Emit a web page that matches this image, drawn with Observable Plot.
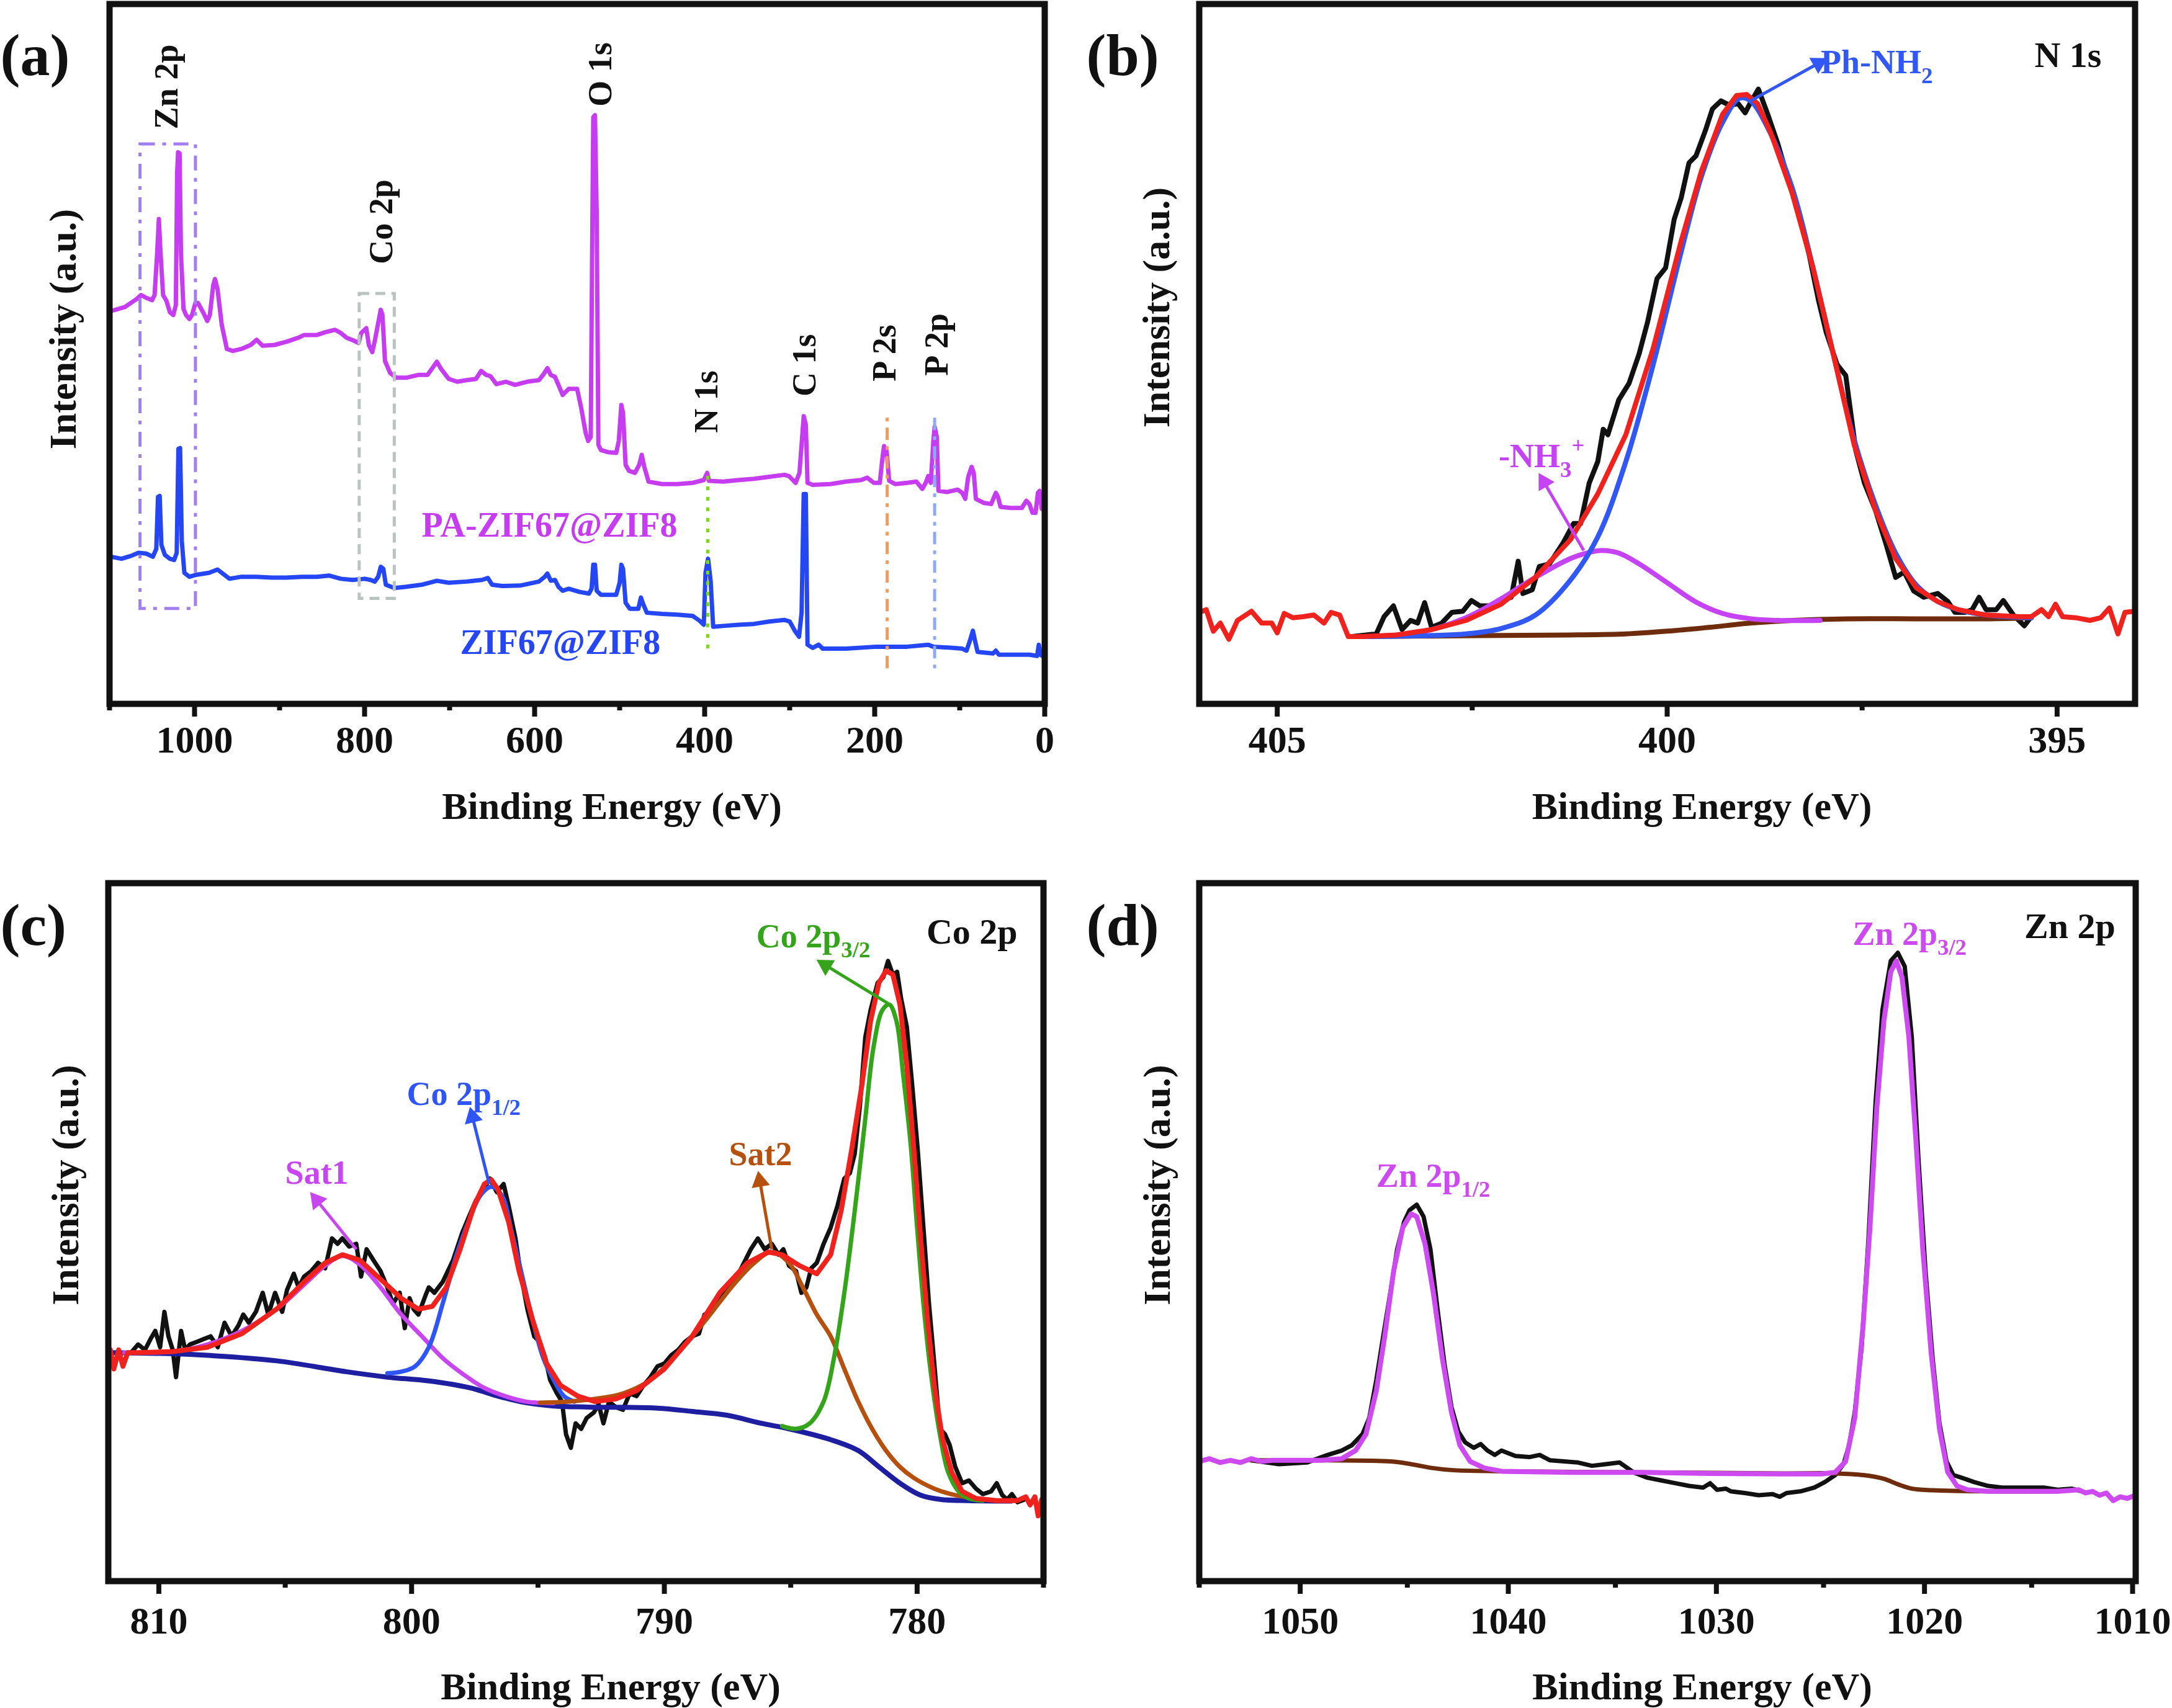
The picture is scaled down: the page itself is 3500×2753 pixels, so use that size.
<!DOCTYPE html>
<html>
<head>
<meta charset="utf-8">
<script src="https://cdn.jsdelivr.net/npm/d3@7"></script>
<script src="https://cdn.jsdelivr.net/npm/@observablehq/plot@0.6"></script>
<style>
html,body{margin:0;padding:0;background:#fff;}
#fig{position:relative;width:3500px;height:2753px;overflow:hidden;background:#fff;}
.panel{position:absolute;}
.panel svg{overflow:visible;}
</style>
</head>
<body>
<div id="fig"></div>
<script>
// ---------- Panel (a): XPS survey, [binding energy eV, intensity a.u.] ----------
const aTicks = [1000, 800, 600, 400, 200, 0];
const aMinor = [1100, 900, 700, 500, 300, 100];
const aPA = [[1098,983],[1082,993],[1068,1013],[1063,1023],[1057,1016],[1050,1010],[1047,1023],[1044,1128],[1042,1213],[1040,1128],[1037,1023],[1033,1008],[1029,980],[1025,973],[1022,998],[1020.5,1328],[1019.4,1380],[1017.6,1378],[1016,1128],[1013,988],[1010,973],[1006,963],[1003,973],[999,1003],[996,1003],[990,980],[985,958],[982,973],[978,1048],[976,1063],[973,1038],[968,948],[962,888],[955,883],[945,888],[934,898],[927,911],[920,896],[906,898],[892,906],[878,916],[871,923],[856,923],[846,930],[835,936],[828,928],[821,916],[814,910],[807,903],[804,928],[798,940],[795,898],[791,880],[788,908],[784,953],[781,986],[779,973],[776,858],[770,828],[763,816],[751,816],[737,823],[726,823],[721,838],[715,856],[710,838],[701,813],[691,806],[680,810],[669,813],[663,833],[657,823],[652,820],[645,800],[634,806],[623,798],[609,806],[595,810],[590,823],[585,840],[581,823],[576,818],[572,798],[567,773],[560,788],[550,788],[545,738],[540,678],[537,658],[534,668],[532,1228],[531,1468],[529,1473],[527,1228],[525,648],[522,635],[514,630],[504,628],[501,658],[498,748],[496,728],[493,598],[489,583],[482,578],[477,598],[474,623],[471,593],[466,556],[450,550],[432,550],[414,553],[401,560],[397,578],[395,558],[378,556],[360,560],[342,563],[324,568],[306,573],[301,570],[293,553],[288.5,578],[286,648],[283.5,720],[281,698],[279,553],[273,548],[252,550],[234,556],[216,560],[209,566],[201,553],[194,553],[191,613],[189,645],[186,633],[183,558],[176,550],[162,553],[151,556],[144,538],[140,553],[137,570],[134,553],[131,658],[129.5,693],[127,668],[125,533],[115,530],[102.5,536],[97,528],[93.5,513],[90,568],[86,593],[83.5,578],[81,513],[72,503],[63,500],[57.5,528],[55,518],[52,493],[39.6,490],[27,490],[21.6,508],[18,500],[14.4,478],[10.8,478],[8,528],[6,533],[3.6,488],[0,483]];
const aZIF = [[1098,368],[1086,363],[1075,370],[1066,378],[1057,376],[1049,368],[1045,388],[1043,518],[1041,520],[1039,398],[1035,373],[1029,363],[1024,360],[1021,378],[1019,638],[1017,640],[1015,408],[1012,328],[1006,318],[998,323],[983,328],[973,336],[968,328],[959,313],[945,318],[927,318],[909,316],[892,316],[874,318],[856,318],[842,321],[828,313],[814,310],[800,313],[793,310],[788,306],[784,318],[781,343],[778,338],[775,298],[765,290],[751,293],[733,298],[715,308],[701,303],[680,306],[662,310],[655,315],[650,298],[638,295],[617,296],[595,306],[588,318],[585,326],[581,308],[576,310],[572,293],[567,283],[560,288],[547,280],[536,276],[533,288],[531,348],[529,348],[527,283],[522,273],[504,273],[500,303],[498,348],[496,338],[493,253],[488,238],[478,238],[475,266],[472,248],[468,228],[450,225],[432,223],[414,220],[406,208],[401,198],[399,328],[396,363],[393,308],[390,193],[378,195],[360,198],[342,200],[324,206],[306,210],[300,206],[294,183],[289,168],[286,228],[283.5,525],[281,525],[279,148],[273,140],[266,148],[261,138],[234,138],[198,143],[162,143],[137,148],[131,143],[108,140],[97,138],[92,133],[88,158],[84.5,183],[82,158],[79,130],[61,126],[57.5,133],[54,123],[18,123],[9,120],[7,148],[5,123],[0,116]];
const aPeakLabels = [
  {E:1032.8, I:1544, t:"Zn 2p"}, {E:780.3, I:1206, t:"Co 2p"}, {E:522.6, I:1575, t:"O 1s"},
  {E:398, I:756, t:"N 1s"}, {E:282.5, I:847, t:"C 1s"}, {E:188, I:878, t:"P 2s"}, {E:127, I:899, t:"P 2p"}
];
const aSeriesLabels = [
  {E:732.8, I:446, t:"PA-ZIF67@ZIF8", c:"#c63cf0"},
  {E:687.6, I:153, t:"ZIF67@ZIF8", c:"#2446f5"}
];
// boxes: [E1, E2, I1, I2]
const aZnBox = [1063.8, 998.6, 238, 1400];
const aCoBox = [806.0, 764.7, 263, 1026];
// guide lines: energy, from, to
const aGuides = [
  {E:396.4, I1:138, I2:573, c:"#7dd61f", dash:"6,11"},
  {E:185.3, I1:88, I2:728, c:"#f59a55", dash:"20,10,6,10"},
  {E:129.5, I1:88, I2:728, c:"#8eaaf2", dash:"6,10,20,10"}
];

// ---------- Panel (b): N 1s ----------
const bTicks = [405, 400, 395];
const bMinor = [402.5, 397.5];
const bRaw = [[404.04,125],[403.73,130],[403.63,162],[403.51,182],[403.4,138],[403.29,155],[403.2,150],[403.11,188],[403.02,142],[402.89,150],[402.76,170],[402.62,172],[402.51,192],[402.4,182],[402.27,182],[402.13,192],[402.0,198],[401.91,265],[401.85,205],[401.73,212],[401.64,255],[401.51,260],[401.33,300],[401.2,335],[401.11,335],[401.0,410],[400.89,450],[400.82,510],[400.76,500],[400.62,565],[400.49,595],[400.36,650],[400.25,710],[400.13,790],[400.02,810],[399.91,900],[399.82,940],[399.72,1005],[399.63,1018],[399.51,1065],[399.42,1105],[399.31,1120],[399.2,1112],[399.09,1115],[399.0,1098],[398.92,1120],[398.83,1142],[398.71,1095],[398.58,1040],[398.44,970],[398.31,910],[398.18,835],[398.06,750],[397.96,690],[397.82,630],[397.71,610],[397.58,470],[397.47,410],[397.33,360],[397.2,300],[397.07,235],[396.96,245],[396.84,210],[396.71,198],[396.53,205],[396.4,190],[396.31,170],[396.18,170],[396.09,175],[396.0,198],[395.91,175],[395.78,175],[395.69,192],[395.56,165],[395.42,145],[395.33,162]];
const bEnvelope = [[406.0,170],[405.91,175],[405.82,135],[405.73,150],[405.62,120],[405.51,155],[405.33,172],[405.2,150],[405.07,150],[405.0,132],[404.91,168],[404.8,160],[404.67,162],[404.53,165],[404.4,150],[404.31,170],[404.2,165],[404.09,125],[403.91,125],[403.47,128],[403.02,138],[402.58,155],[402.13,185],[401.69,235],[401.24,305],[400.89,390],[400.53,500],[400.18,660],[399.82,860],[399.56,990],[399.29,1095],[399.11,1130],[398.98,1132],[398.84,1115],[398.67,1060],[398.4,950],[398.13,810],[397.87,650],[397.6,480],[397.33,360],[397.07,270],[396.8,215],[396.53,190],[396.27,175],[395.91,165],[395.47,162],[395.33,162],[395.2,175],[395.11,162],[395.02,185],[394.93,162],[394.76,160],[394.58,155],[394.44,160],[394.33,178],[394.22,130],[394.13,170],[394.0,172]];
const bPhNH2 = [[403.91,125],[403.02,127],[402.58,130],[402.13,140],[401.69,165],[401.24,230],[400.89,310],[400.53,450],[400.18,630],[399.82,840],[399.56,980],[399.29,1080],[399.07,1125],[398.93,1120],[398.71,1070],[398.4,960],[398.13,810],[397.87,650],[397.6,490],[397.33,370],[397.07,280],[396.8,220],[396.53,190],[396.27,175],[395.91,165],[395.33,160]];
const bNH3 = [[403.91,125],[403.2,132],[402.58,160],[402.13,195],[401.69,235],[401.24,270],[400.98,282],[400.84,285],[400.62,280],[400.36,260],[400.0,225],[399.64,190],[399.29,168],[398.93,158],[398.58,155],[398.04,155]];
const bBackground = [[404.04,125],[403.02,126],[402.13,127],[401.24,128],[400.53,130],[400.0,135],[399.47,142],[398.93,150],[398.4,155],[397.69,158],[396.8,158],[395.91,158],[395.33,160]];
const bLabels = [
  {E:398.03, I:1172, t:"Ph-NH_{2}", c:"#3157f5"},
  {E:402.16, I:440, t:"-NH_{3}^{+}", c:"#c543f5"}
];
const bArrows = [
  {x1:398.93, y1:1120, x2:398.06, y2:1190, c:"#3157f5"},
  {x1:401.07, y1:285, x2:401.58, y2:412, c:"#c543f5"}
];
const bCore = {E:395.29, I:1183, t:"N 1s"};

// ---------- Panel (c): Co 2p ----------
const cTicks = [810, 800, 790, 780];
const cMinor = [805, 795, 785, 775];
const cRaw = [[811.10,420],[810.82,435],[810.55,425],[810.33,445],[810.14,460],[809.95,430],[809.78,495],[809.62,450],[809.45,425],[809.32,375],[809.12,460],[808.96,425],[808.77,435],[808.49,440],[808.22,445],[807.95,450],[807.67,430],[807.40,475],[807.12,450],[806.85,470],[806.66,490],[806.44,475],[806.16,495],[805.89,530],[805.67,490],[805.40,530],[805.12,495],[804.93,535],[804.66,565],[804.47,540],[804.25,560],[803.97,570],[803.70,585],[803.42,575],[803.15,630],[802.93,620],[802.74,630],[802.47,615],[802.19,620],[802.0,560],[801.78,610],[801.51,590],[801.23,570],[800.96,540],[800.74,510],[800.47,530],[800.27,465],[800.08,520],[799.92,500],[799.73,490],[799.45,525],[799.32,540],[799.10,530],[798.77,550],[798.36,590],[798.0,640],[797.73,670],[797.45,700],[797.18,718],[796.90,740],[796.63,715],[796.36,730],[796.16,690],[795.89,630],[795.70,570],[795.42,500],[795.15,450],[794.93,440],[794.71,410],[794.52,370],[794.25,345],[794.05,330],[793.89,270],[793.70,245],[793.51,290],[793.29,280],[793.07,300],[792.79,310],[792.60,325],[792.41,290],[792.19,330],[791.92,320],[791.64,315],[791.37,345],[791.10,340],[790.82,360],[790.55,375],[790.27,395],[790.0,400],[789.73,415],[789.45,425],[789.18,440],[788.90,450],[788.63,455],[788.41,490],[788.14,495],[787.95,510],[787.67,530],[787.40,540],[787.12,560],[786.85,585],[786.58,610],[786.30,630],[786.03,610],[785.75,620],[785.48,600],[785.29,610],[785.07,580],[784.79,570],[784.58,530],[784.38,540],[784.19,575],[783.97,585],[783.70,620],[783.42,650],[783.15,690],[782.88,740],[782.66,750],[782.47,785],[782.27,870],[782.05,1000],[781.84,1050],[781.56,1100],[781.34,1110],[781.15,1140],[780.96,1115],[780.79,1120],[780.63,1070],[780.41,1020],[780.19,910],[779.97,790],[779.75,650],[779.53,510],[779.32,400],[779.10,280],[778.90,270],[778.71,250],[778.49,210],[778.22,180],[777.95,185],[777.67,170],[777.40,160],[777.07,165],[776.85,180],[776.63,158],[776.44,150],[776.25,160],[776.03,145],[775.75,150]];
const cEnvelope = [[811.92,425],[811.78,390],[811.59,425],[811.42,395],[811.23,420],[810.82,420],[809.45,422],[808.08,430],[806.71,455],[805.34,500],[804.25,550],[803.42,585],[802.74,600],[802.05,590],[801.23,555],[800.41,520],[799.73,500],[799.18,505],[798.63,540],[798.08,610],[797.53,690],[797.12,730],[796.85,738],[796.58,720],[796.16,660],[795.75,570],[795.21,480],[794.66,400],[794.11,360],[793.42,340],[792.74,330],[791.92,335],[791.10,350],[790.0,390],[788.9,450],[787.81,530],[786.71,585],[785.89,605],[785.34,600],[784.66,580],[783.97,565],[783.42,600],[783.01,680],[782.6,790],[782.19,910],[781.84,1030],[781.51,1100],[781.23,1122],[780.96,1115],[780.68,1060],[780.41,950],[780.14,800],[779.86,630],[779.59,480],[779.32,360],[778.99,260],[778.63,200],[778.22,165],[777.67,152],[776.85,148],[776.03,148],[775.70,155],[775.53,140],[775.34,155],[775.21,120],[775.07,150]];
const cCo2p12 = [[800.96,382],[800.41,385],[799.86,395],[799.32,430],[798.77,510],[798.22,600],[797.67,670],[797.26,710],[796.85,725],[796.44,710],[796.03,640],[795.62,560],[795.21,480],[794.79,410],[794.38,370],[793.97,340],[793.56,330]];
const cSat1 = [[811.37,420],[809.45,422],[808.08,435],[806.71,460],[805.34,500],[804.25,545],[803.42,580],[802.74,598],[802.05,582],[801.23,540],[800.41,490],[799.59,450],[798.77,410],[797.95,380],[797.12,355],[796.30,340],[795.48,330],[794.38,327]];
const cBackground = [[811.92,420],[809.45,418],[808.08,415],[805.34,405],[802.60,385],[800.96,375],[799.32,368],[797.67,355],[796.58,340],[795.48,328],[794.38,322],[793.01,320],[790.27,318],[788.90,312],[787.53,305],[786.16,290],[785.07,280],[783.42,260],[782.33,240],[781.51,210],[780.68,180],[779.86,158],[779.04,150],[777.95,148],[776.30,147]];
const cCo2p32 = [[785.34,285],[784.79,280],[784.25,290],[783.70,330],[783.29,410],[782.88,530],[782.47,680],[782.05,850],[781.73,980],[781.37,1050],[781.10,1060],[780.82,1030],[780.55,930],[780.27,810],[780.0,650],[779.73,500],[779.45,380],[779.10,270],[778.77,200],[778.36,165],[777.95,152],[777.40,148]];
const cSat2 = [[794.93,328],[793.84,330],[792.74,335],[791.64,345],[790.55,370],[789.45,420],[788.36,480],[787.26,545],[786.44,585],[785.75,605],[785.07,585],[784.52,540],[783.97,490],[783.42,450],[782.88,390],[782.33,330],[781.78,280],[781.23,240],[780.68,210],[780.14,190],[779.32,170],[778.49,158],[777.40,150]];
const cLabels = [
  {E:805.0, I:730, t:"Sat1", c:"#c846f0"},
  {E:800.19, I:875, t:"Co 2p_{1/2}", c:"#2f55f7"},
  {E:787.45, I:765, t:"Sat2", c:"#b5500f"},
  {E:786.36, I:1165, t:"Co 2p_{3/2}", c:"#34a51a"}
];
const cArrows = [
  {x1:802.19, y1:610, x2:803.75, y2:700, c:"#c846f0"},
  {x1:796.93, y1:730, x2:797.59, y2:853, c:"#2f55f7"},
  {x1:785.75, y1:610, x2:786.22, y2:735, c:"#b5500f"},
  {x1:781.15, y1:1062, x2:783.62, y2:1132, c:"#34a51a"}
];
const cCore = {E:779.63, I:1172, t:"Co 2p"};

// ---------- Panel (d): Zn 2p ----------
const dTicks = [1050, 1040, 1030, 1020, 1010];
const dMinor = [1055, 1045, 1035, 1025, 1015];
const dRaw = [[1052.51,222],[1051.17,215],[1049.83,218],[1048.83,232],[1048.16,240],[1047.66,250],[1047.16,270],[1046.83,300],[1046.49,370],[1046.16,450],[1045.82,530],[1045.49,610],[1045.16,660],[1044.89,682],[1044.55,692],[1044.22,670],[1043.89,610],[1043.55,500],[1043.22,400],[1042.88,320],[1042.55,275],[1042.22,255],[1041.81,245],[1041.48,252],[1041.15,240],[1040.8,232],[1040.48,240],[1039.81,230],[1039.14,228],[1038.64,232],[1038.14,222],[1037.47,220],[1036.80,218],[1036.13,212],[1035.47,215],[1034.80,218],[1034.13,200],[1033.46,190],[1032.79,185],[1032.13,180],[1031.46,175],[1030.79,172],[1030.45,180],[1030.12,168],[1029.7,170],[1029.45,165],[1028.78,162],[1028.12,158],[1027.45,160],[1027.11,155],[1026.78,162],[1026.11,165],[1025.44,172],[1024.94,182],[1024.44,195],[1024.04,215],[1023.77,250],[1023.50,310],[1023.17,430],[1022.84,630],[1022.50,880],[1022.17,1050],[1021.77,1140],[1021.43,1155],[1021.10,1130],[1020.76,1000],[1020.43,770],[1020.10,570],[1019.76,410],[1019.43,290],[1019.09,220],[1018.76,195],[1018.36,190],[1017.76,182],[1017.09,175],[1016.42,172],[1015.42,172],[1014.42,172],[1013.75,168],[1013.08,170],[1012.58,165]];
const dEnvelope = [[1055.0,220],[1054.51,225],[1054.01,218],[1053.51,222],[1053.01,218],[1052.51,225],[1052.0,220],[1051.5,222],[1050.50,222],[1049.16,222],[1048.16,225],[1047.49,240],[1046.99,270],[1046.49,350],[1046.09,450],[1045.66,570],[1045.22,650],[1044.82,675],[1044.55,670],[1044.15,620],[1043.75,530],[1043.32,410],[1042.88,310],[1042.48,250],[1041.98,220],[1041.31,208],[1040.48,202],[1037.14,200],[1033.80,200],[1030.45,198],[1027.11,197],[1025.11,197],[1024.44,200],[1023.94,220],[1023.50,300],[1023.10,470],[1022.77,650],[1022.44,870],[1022.10,1030],[1021.77,1120],[1021.50,1140],[1021.23,1110],[1020.90,1000],[1020.56,810],[1020.23,610],[1019.83,420],[1019.43,280],[1019.03,200],[1018.59,175],[1018.09,168],[1017.09,165],[1015.42,165],[1013.75,165],[1012.75,168],[1012.41,162],[1012.08,165],[1011.74,158],[1011.41,162],[1011.08,148],[1010.74,155],[1010.41,152],[1010.01,158]];
const dBackground = [[1052.51,222],[1048.83,222],[1045.82,220],[1044.82,215],[1043.82,208],[1042.82,204],[1040.48,202],[1033.80,200],[1027.11,198],[1024.44,198],[1023.10,195],[1022.10,188],[1021.43,178],[1020.76,170],[1019.76,167],[1017.09,165],[1013.75,165]];
const dLabels = [
  {E:1046.49, I:725, t:"Zn 2p_{1/2}", c:"#cd4af0"},
  {E:1023.6, I:1170, t:"Zn 2p_{3/2}", c:"#cd4af0"}
];
const dCore = {E:1015.35, I:1182, t:"Zn 2p"};

// ---------- rendering ----------
const FONT = "'Liberation Serif','Times New Roman',serif";
const fig = document.getElementById("fig");
const X = d => d[0], Y = d => d[1];

function common(p) {
  return [
    Plot.frame({stroke: "#111", strokeWidth: 10}),
    Plot.axisX(p.ticks, {tickSize: 21, tickPadding: p.pad, strokeWidth: 8, stroke: "#111",
      fontSize: 62, fontWeight: "bold", fill: "#111", tickFormat: d => String(d), label: null,
      dx: p.tickDx || 0}),
    Plot.axisX(p.minor, {tickSize: 11, tickPadding: 0, strokeWidth: 8, stroke: "#111",
      tickFormat: () => "", label: null}),
    Plot.text(["Binding Energy (eV)"], {frameAnchor: "bottom", dx: 56, dy: p.titleDy,
      fontSize: 62, fontWeight: "bold", fill: "#111", lineAnchor: "middle"}),
    Plot.text(["Intensity (a.u.)"], {frameAnchor: "left", rotate: -90, dx: p.yDx, dy: p.yDy,
      fontSize: 62, fontWeight: "bold", fill: "#111", lineAnchor: "middle", textAnchor: "middle"}),
    Plot.text([p.letter], {frameAnchor: "top-left", dx: p.letterDx, dy: p.letterDy,
      fontSize: 96, fontWeight: "bold", fill: "#111", textAnchor: "start", lineAnchor: "bottom"})
  ];
}

function richText(svg) {
  svg.querySelectorAll("text").forEach(t => {
    const s = t.textContent;
    if (!/[_^]\{/.test(s)) return;
    const fs = parseFloat(getComputedStyle(t).fontSize) || 54;
    const parts = s.split(/([_^]\{[^}]*\})/).filter(p => p.length);
    t.textContent = "";
    let cur = 0;
    for (const p of parts) {
      const ts = document.createElementNS("http://www.w3.org/2000/svg", "tspan");
      let target = 0, txt = p, size = null;
      if (p.startsWith("_{")) { target = 0.3 * fs; txt = p.slice(2, -1); size = 0.68 * fs; }
      else if (p.startsWith("^{")) { target = -0.42 * fs; txt = p.slice(2, -1); size = 0.68 * fs; }
      if (size) ts.setAttribute("font-size", size);
      ts.setAttribute("dy", target - cur);
      cur = target;
      ts.textContent = txt;
      t.appendChild(ts);
    }
  });
}

// arrows: shaft (link) + filled triangular head oriented along the shaft in screen space
function arrows(p, data) {
  const sx = d3.scaleLinear(p.xDomain, [p.ml, 1750 - p.mr]);
  const sy = d3.scaleLinear(p.yDomain, [p.height - p.mb, p.mt]);
  const withRot = data.map(a => {
    const dx = sx(a.x2) - sx(a.x1), dy = sy(a.y2) - sy(a.y1);
    return {...a, rot: Math.atan2(dx, -dy) * 180 / Math.PI};
  });
  return [
    Plot.link(withRot, {x1: "x1", y1: "y1", x2: "x2", y2: "y2", stroke: "c", strokeWidth: 5}),
    Plot.dot(withRot, {x: "x2", y: "y2", symbol: "triangle", r: 11, fill: "c", stroke: "none", rotate: "rot"})
  ];
}

function panel(p, marks) {
  const svg = Plot.plot({
    width: 1750, height: p.height,
    marginLeft: p.ml, marginRight: p.mr, marginTop: p.mt, marginBottom: p.mb,
    x: {domain: p.xDomain},
    y: {domain: p.yDomain, axis: null},
    color: {type: "identity"},
    style: {fontFamily: FONT, fontWeight: "bold", color: "#111", background: "transparent", overflow: "visible"},
    marks: [...marks, ...common(p)]
  });
  const div = document.createElement("div");
  div.className = "panel";
  div.style.left = p.left + "px";
  div.style.top = p.top + "px";
  div.appendChild(svg);
  fig.appendChild(div);
  richText(svg);
}

const LW = {strokeLinejoin: "round", strokeLinecap: "round"};
const annText = (data, size) => Plot.text(data, {x: "E", y: "I", text: "t", fill: "c", fontSize: size,
  fontWeight: "bold", textAnchor: "start", lineAnchor: "bottom"});
const coreText = (d) => Plot.text([d], {x: "E", y: "I", text: "t", fill: "#111", fontSize: 58,
  fontWeight: "bold", textAnchor: "start", lineAnchor: "bottom"});

const pa = {left: 0, top: 0, height: 1376, ml: 176, mr: 67, mt: 6, mb: 242,
  xDomain: [1100, 0], yDomain: [0, 1751], ticks: aTicks, minor: aMinor, pad: 13,
  titleDy: 166, yDx: -74, yDy: -40, letter: "(a)", letterDx: -176, letterDy: 114};
const pb = {left: 1750, top: 0, height: 1376, ml: 182, mr: 60, mt: 6, mb: 242,
  xDomain: [406, 394], yDomain: [0, 1300], ticks: bTicks, minor: bMinor, pad: 13,
  titleDy: 166, yDx: -68, yDy: -75, letter: "(b)", letterDx: -182, letterDy: 114};
const pc = {left: 0, top: 1376, height: 1377, ml: 174, mr: 69, mt: 47, mb: 205,
  xDomain: [812, 775], yDomain: [0, 1283], ticks: cTicks, minor: cMinor, pad: 19,
  titleDy: 171, yDx: -68, yDy: -76, letter: "(c)", letterDx: -174, letterDy: 99};
const pd = {left: 1750, top: 1376, height: 1377, ml: 182, mr: 59, mt: 47, mb: 205,
  xDomain: [1055, 1010], yDomain: [0, 1283], ticks: dTicks, minor: dMinor, pad: 19, tickDx: -5,
  titleDy: 171, yDx: -67, yDy: -76, letter: "(d)", letterDx: -182, letterDy: 99};

// (a)
panel(pa, [
  Plot.line(aPA, {x: X, y: Y, stroke: "#c63cf0", strokeWidth: 7, ...LW}),
  Plot.line(aZIF, {x: X, y: Y, stroke: "#2446f5", strokeWidth: 7, ...LW}),
  Plot.rect([aZnBox], {x1: d => d[0], x2: d => d[1], y1: d => d[2], y2: d => d[3], fill: "none",
    stroke: "#a27ff0", strokeWidth: 5, strokeDasharray: "24,12,6,12"}),
  Plot.rect([aCoBox], {x1: d => d[0], x2: d => d[1], y1: d => d[2], y2: d => d[3], fill: "none",
    stroke: "#b9c3c0", strokeWidth: 5, strokeDasharray: "16,10"}),
  ...aGuides.map(g => Plot.ruleX([g], {x: "E", y1: "I1", y2: "I2", stroke: g.c, strokeWidth: 5,
    strokeDasharray: g.dash})),
  Plot.text(aPeakLabels, {x: "E", y: "I", text: "t", rotate: -90, fontSize: 54, fontWeight: "bold",
    fill: "#111", textAnchor: "middle", lineAnchor: "middle"}),
  Plot.text(aSeriesLabels, {x: "E", y: "I", text: "t", fill: "c", fontSize: 56, fontWeight: "bold",
    textAnchor: "start", lineAnchor: "middle"})
]);

// (b)
panel(pb, [
  Plot.line(bRaw, {x: X, y: Y, stroke: "#111", strokeWidth: 8, ...LW}),
  Plot.line(bBackground, {x: X, y: Y, stroke: "#6e2c0c", strokeWidth: 8, curve: "catmull-rom", ...LW}),
  Plot.line(bNH3, {x: X, y: Y, stroke: "#c543f5", strokeWidth: 8, curve: "catmull-rom", ...LW}),
  Plot.line(bPhNH2, {x: X, y: Y, stroke: "#3157f5", strokeWidth: 8, curve: "catmull-rom", ...LW}),
  Plot.line(bEnvelope, {x: X, y: Y, stroke: "#f0221e", strokeWidth: 8, ...LW}),
  ...arrows(pb, bArrows),
  annText(bLabels, 54),
  coreText(bCore)
]);

// (c)
panel(pc, [
  Plot.line(cRaw, {x: X, y: Y, stroke: "#111", strokeWidth: 7, ...LW}),
  Plot.line(cBackground, {x: X, y: Y, stroke: "#1e1ea0", strokeWidth: 8, curve: "catmull-rom", ...LW}),
  Plot.line(cSat1, {x: X, y: Y, stroke: "#c846f0", strokeWidth: 7, curve: "catmull-rom", ...LW}),
  Plot.line(cCo2p12, {x: X, y: Y, stroke: "#2f55f7", strokeWidth: 7, curve: "catmull-rom", ...LW}),
  Plot.line(cSat2, {x: X, y: Y, stroke: "#b5500f", strokeWidth: 7, curve: "catmull-rom", ...LW}),
  Plot.line(cCo2p32, {x: X, y: Y, stroke: "#34a51a", strokeWidth: 7, curve: "catmull-rom", ...LW}),
  Plot.line(cEnvelope, {x: X, y: Y, stroke: "#f0221e", strokeWidth: 8, ...LW}),
  ...arrows(pc, cArrows),
  annText(cLabels, 54),
  coreText(cCore)
]);

// (d)
panel(pd, [
  Plot.line(dRaw, {x: X, y: Y, stroke: "#111", strokeWidth: 7, ...LW}),
  Plot.line(dBackground, {x: X, y: Y, stroke: "#6e2c0c", strokeWidth: 7, curve: "catmull-rom", ...LW}),
  Plot.line(dEnvelope, {x: X, y: Y, stroke: "#cd4af0", strokeWidth: 8, ...LW}),
  annText(dLabels, 54),
  coreText(dCore)
]);
</script>
</body>
</html>
